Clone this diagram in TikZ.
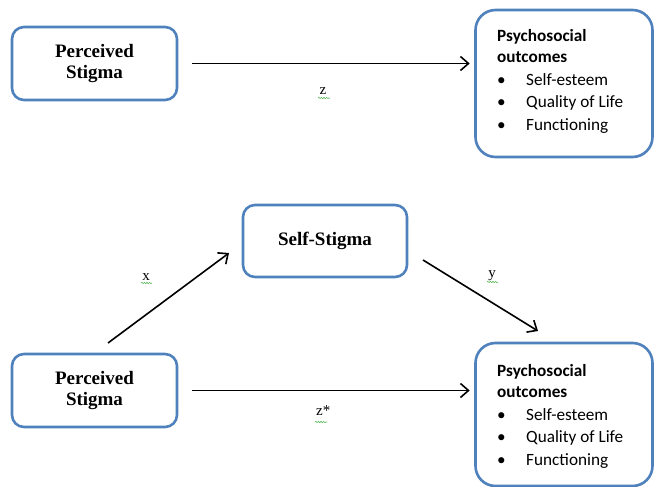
\documentclass[tikz,border=0pt]{standalone}
\usepackage{fontspec}
\setmainfont{Liberation Serif}
\newfontfamily\calibri{Carlito}
\usetikzlibrary{arrows.meta,decorations.pathmorphing}
\definecolor{boxblue}{RGB}{79,129,189}
\definecolor{spellgreen}{RGB}{90,185,90}
\begin{document}
\begin{tikzpicture}[x=1pt,y=-1pt,
  box/.style={draw=boxblue, line width=2.6pt, rounded corners=12pt, fill=white, align=center,
    font=\fontsize{19}{21}\selectfont\bfseries, inner sep=0pt},
  outbox/.style={draw=boxblue, line width=2.6pt, rounded corners=20pt, fill=white, inner sep=0pt,
    minimum width=177pt},
  conn/.style={-{Straight Barb[length=8pt,width=14pt,line width=1.6pt]}, line width=1.6pt},
  lbl/.style={font=\fontsize{15}{18}\selectfont, inner sep=0pt},
  squig/.style={draw=spellgreen, line width=0.6pt, decorate,
    decoration={snake, amplitude=0.7pt, segment length=2.6pt}},
  otxt/.style={font=\calibri\fontsize{17.2}{20}\selectfont, inner sep=0pt, anchor=base west},
  ohead/.style={font=\calibri\bfseries\fontsize{17.2}{20}\selectfont, inner sep=0pt, anchor=base west},
]
\useasboundingbox (0,0) rectangle (654,487);

% ---------- top diagram ----------
\node[box, minimum width=165pt, minimum height=73pt] (ps1) at (94.5,63.5) {Perceived\\Stigma};
\node[outbox, minimum height=147pt] (po1) at (564,83.5) {};
\node[ohead] (po1h1) at (497,42) {Psychosocial};
\node[ohead] (po1h2) at (497,63) {outcomes};
\node[otxt] (po1b1) at (497,86) {\textbullet};
\node[otxt] (po1t1) at (526,86) {Self-esteem};
\node[otxt] (po1b2) at (497,108) {\textbullet};
\node[otxt] (po1t2) at (526,108) {Quality of Life};
\node[otxt] (po1b3) at (497,131) {\textbullet};
\node[otxt] (po1t3) at (526,131) {Functioning};

\draw[conn, shorten <=14pt, shorten >=4.5pt] (ps1.east) -- (ps1.east -| po1.west);
\node[lbl, anchor=base] (lz) at (323,95) {z};
\path[squig] (318,98) -- (330,98);

% ---------- bottom diagram ----------
\node[box, minimum width=164pt, minimum height=72pt] (ss) at (325,241) {Self-Stigma};
\node[box, minimum width=165pt, minimum height=73pt] (ps2) at (94.5,390.5) {Perceived\\Stigma};
\node[outbox, minimum height=143pt] (po2) at (564,414.5) {};
\node[ohead] (po2h1) at (497,376) {Psychosocial};
\node[ohead] (po2h2) at (497,397) {outcomes};
\node[otxt] (po2b1) at (497,420) {\textbullet};
\node[otxt] (po2t1) at (526,420) {Self-esteem};
\node[otxt] (po2b2) at (497,442) {\textbullet};
\node[otxt] (po2t2) at (526,442) {Quality of Life};
\node[otxt] (po2b3) at (497,465) {\textbullet};
\node[otxt] (po2t3) at (526,465) {Functioning};

\coordinate (xs) at (108,343);
\coordinate (xe) at (229,253);
\coordinate (ys) at (423,260);
\coordinate (ye) at (538,331);
\draw[conn] (xs) -- (xe);
\draw[conn] (ys) -- (ye);
\draw[conn, shorten <=14pt, shorten >=4.5pt] (ps2.east) -- (ps2.east -| po2.west);

\node[lbl, anchor=base] (lx) at (146,280) {x};
\path[squig] (141,283) -- (152,283);
\node[lbl, anchor=base] (ly) at (492,277) {y};
\path[squig] (487,282) -- (498,282);
\node[lbl, anchor=base west] (lzs) at (316,415) {z*};
\path[squig] (315,422) -- (327,422);
\end{tikzpicture}
\end{document}
